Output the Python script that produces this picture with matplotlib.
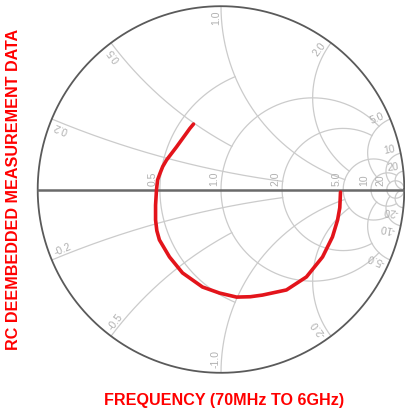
import numpy as np
import matplotlib
matplotlib.use("Agg")
import matplotlib.pyplot as plt

# ---- data: measured reflection coefficient trace (70 MHz -> 6 GHz) ----
gamma_re = [-0.150, -0.170, -0.188, -0.243, -0.297, -0.318, -0.332, -0.346, -0.352, -0.357, -0.357,
            -0.350, -0.336, -0.281, -0.210, -0.101, -0.008, 0.085, 0.160, 0.226, 0.357, 0.466,
            0.554, 0.608, 0.636, 0.648, 0.652]
gamma_im = [0.357, 0.333, 0.308, 0.232, 0.161, 0.125, 0.090, 0.052, -0.003, -0.085, -0.166,
            -0.225, -0.275, -0.368, -0.455, -0.532, -0.565, -0.587, -0.585, -0.576, -0.548, -0.477,
            -0.368, -0.259, -0.166, -0.100, -0.014]

# ---- Smith chart grid values and labels ----
r_values = [0.5, 1.0, 2.0, 5.0, 10.0, 20.0]
r_labels = ["0.5", "1.0", "2.0", "5.0", "10", "20"]
r_xlimit = [1.0, 5.0, 5.0, 10.0, 20.0, np.inf]

x_values = [0.2, 0.5, 1.0, 2.0, 5.0, 10.0, 20.0]
x_labels = ["0.2", "0.5", "1.0", "2.0", "5.0", "10", "20"]
x_rlimit = [2.0, 1.0, 5.0, 5.0, 10.0, 20.0, np.inf]

xlabel_text = "FREQUENCY (70MHz TO 6GHz)"
ylabel_text = "RC DEEMBEDDED MEASUREMENT DATA"


def gam(z):
    return (z - 1) / (z + 1)


W, H = 405, 416
fig = plt.figure(figsize=(W / 100, H / 100), dpi=100)
cx, cy, R = 221.0, 189.5, 183.3
ax = fig.add_axes([(cx - R) / W, (H - cy - R) / H, 2 * R / W, 2 * R / H])
ax.set_xlim(-1, 1)
ax.set_ylim(-1, 1)
ax.axis("off")

grid_c = "#cbcbcb"
lab_c = "#b0b0b0"
gl = 0.9

# resistance circles
for r, xl in zip(r_values, r_xlimit):
    tmax = np.arctan(xl) if np.isfinite(xl) else np.pi / 2 - 1e-4
    t = np.linspace(-tmax, tmax, 600)
    g = gam(r + 1j * np.tan(t))
    ax.plot(g.real, g.imag, color=grid_c, lw=gl, zorder=1)

# reactance arcs
for x, rl in zip(x_values, x_rlimit):
    tmax = np.arctan(rl) if np.isfinite(rl) else np.pi / 2 - 1e-4
    t = np.linspace(0, tmax, 600)
    for s in (1, -1):
        g = gam(np.tan(t) + 1j * s * x)
        ax.plot(g.real, g.imag, color=grid_c, lw=gl, zorder=1)

# outer circle and real axis
th = np.linspace(0, 2 * np.pi, 800)
ax.plot(np.cos(th), np.sin(th), color="#5a5a5a", lw=1.3, zorder=3, clip_on=False)
ax.plot([-1, 1], [0, 0], color="#6a6a6a", lw=1.8, zorder=3, clip_on=False)

lab_font = dict(family="Liberation Sans", fontsize=7.5, color=lab_c)

# resistance labels on the axis
for r, lab in zip(r_values, r_labels):
    g = gam(r)
    ax.text(g.real - 0.01, 0.02, lab, rotation=90, rotation_mode="anchor",
            ha="left", va="bottom", zorder=2, **lab_font)

# reactance labels near the boundary
for x, lab in zip(x_values, x_labels):
    g = gam(1j * x)
    ang = np.degrees(np.angle(g))
    p = 0.975 * g
    ax.text(p.real, p.imag, lab, rotation=ang, rotation_mode="anchor",
            ha="right", va="bottom", zorder=2, **lab_font)
    g2 = np.conj(g)
    p2 = 0.975 * g2
    ax.text(p2.real, p2.imag, "-" + lab, rotation=-ang + 180, rotation_mode="anchor",
            ha="left", va="bottom", zorder=2, **lab_font)

# measured trace
ax.plot(gamma_re, gamma_im, color="#e3141b", lw=2.6, zorder=4,
        solid_capstyle="round", solid_joinstyle="round")

fig.text(224 / W, 1 - 400 / H, xlabel_text, color="#ff0000", fontsize=11.6,
         fontweight="bold", family="Liberation Sans", ha="center", va="center")
fig.text(14 / W, 1 - 189 / H, ylabel_text, color="#ff0000", fontsize=11.6,
         fontweight="bold", family="Liberation Sans", ha="center", va="center",
         rotation=90)

fig.savefig("out.png", dpi=100)
